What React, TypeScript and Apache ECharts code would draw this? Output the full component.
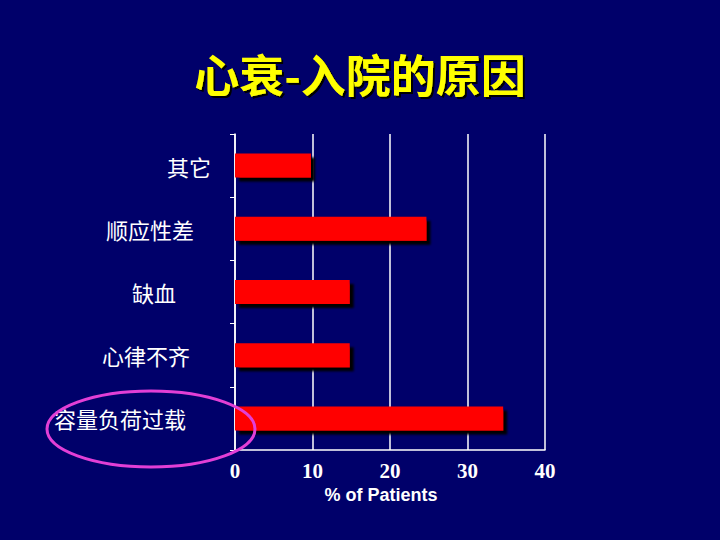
import React, { useEffect, useRef } from "react";
import * as echarts from "echarts";

const categories = ["其它", "顺应性差", "缺血", "心律不齐", "容量负荷过载"];
const values = [9.8, 24.7, 14.8, 14.8, 34.6];
const labelPad = [0, 17, 35, 21, 25];
const xTicks = [0, 10, 20, 30, 40];

export default function App() {
  const ref = useRef<HTMLDivElement>(null);
  useEffect(() => {
    document.body.style.margin = "0";
    const chart = echarts.init(ref.current!, null, { renderer: "svg" });
    chart.setOption({
      animation: false,
      backgroundColor: "#00006a",
      title: {
        text: "心衰-入院的原因",
        left: "center",
        top: 46,
        textStyle: {
          color: "#ffff00",
          fontSize: 45,
          fontWeight: "bold",
          fontFamily: "Noto Sans CJK SC",
          textShadowColor: "#000000",
          textShadowOffsetX: 2,
          textShadowOffsetY: 2,
          textShadowBlur: 1,
        },
      },
      grid: { left: 235, right: 175, top: 134, bottom: 90 },
      xAxis: {
        type: "value",
        min: xTicks[0],
        max: xTicks[xTicks.length - 1],
        interval: 10,
        name: "% of Patients",
        nameLocation: "middle",
        nameGap: 36,
        nameTextStyle: {
          color: "#ffffff",
          fontSize: 18,
          fontWeight: "bold",
          fontFamily: "Liberation Sans",
          padding: [0, 18, 0, 0],
        },
        axisLine: { show: true, lineStyle: { color: "#ffffff", width: 1.5 } },
        axisTick: { show: false },
        axisLabel: {
          color: "#ffffff",
          fontSize: 21,
          fontWeight: "bold",
          fontFamily: "Liberation Serif",
          margin: 10,
        },
        splitLine: { show: true, lineStyle: { color: "#ffffff", width: 1.5 } },
      },
      yAxis: {
        type: "category",
        inverse: true,
        data: categories.map((c, i) => ({
          value: c,
          textStyle: { padding: [4, labelPad[i], 0, 0] },
        })),
        axisLine: { show: true, lineStyle: { color: "#ffffff", width: 1.5 } },
        axisTick: { show: true, length: 5, lineStyle: { color: "#ffffff" } },
        axisLabel: {
          color: "#ffffff",
          fontSize: 22,
          fontFamily: "Noto Sans CJK SC",
          margin: 24,
        },
        splitLine: { show: false },
      },
      series: [
        {
          type: "bar",
          data: values,
          barWidth: 24,
          itemStyle: {
            color: "#ff0000",
            shadowColor: "rgba(0,0,0,1)",
            shadowOffsetX: 4,
            shadowOffsetY: 4,
            shadowBlur: 2,
          },
        },
      ],
      graphic: [
        {
          type: "ellipse",
          shape: { cx: 151, cy: 429, rx: 104, ry: 38 },
          style: { fill: "none", stroke: "#e23fd6", lineWidth: 3 },
          z: 100,
        },
      ],
    });
    return () => chart.dispose();
  }, []);
  return (
    <div
      ref={ref}
      style={{ position: "fixed", left: 0, top: 0, width: 720, height: 540 }}
    />
  );
}
